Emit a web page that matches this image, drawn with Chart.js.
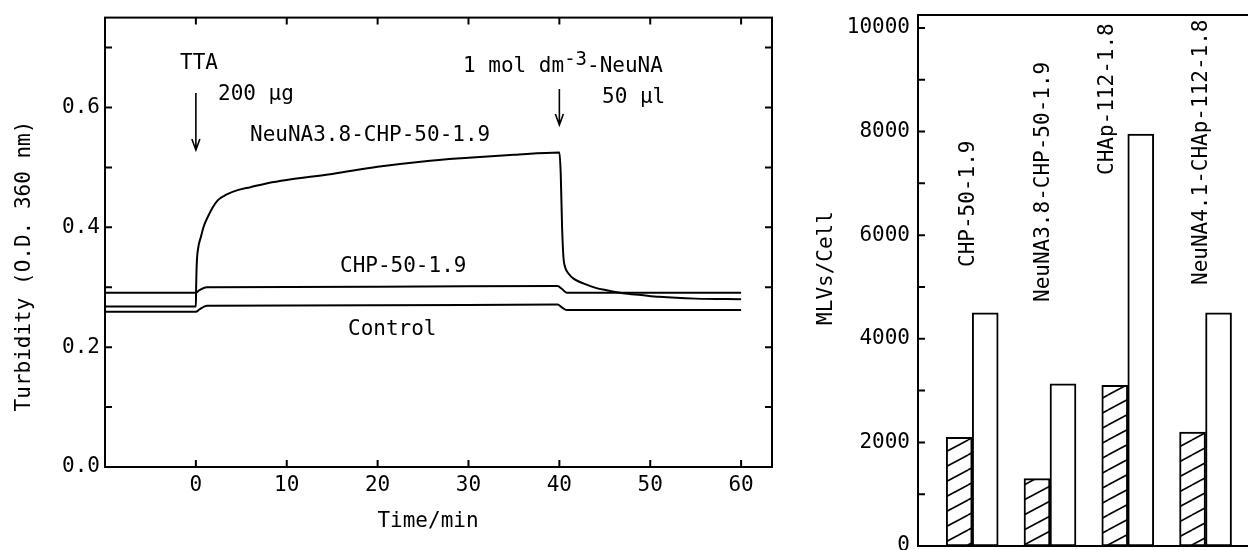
<!DOCTYPE html>
<html>
<head>
<meta charset="utf-8">
<script src="https://cdn.jsdelivr.net/npm/chart.js@4.4.1/dist/chart.umd.min.js"></script>
<style>
  html, body { margin: 0; padding: 0; background: #fff; overflow: hidden; width: 1248px; height: 550px; }
  #turbWrap { position: absolute; left: 0; top: 0; width: 800px; height: 550px; }
  #mlvWrap { position: absolute; left: 800px; top: -10px; width: 480px; height: 580px; }
</style>
</head>
<body>
<div id="turbWrap"><canvas id="turbChart"></canvas></div>
<div id="mlvWrap"><canvas id="mlvChart"></canvas></div>
<script>
// Turbidity traces (time / min, O.D. at 360 nm)
const neuTime = [-10, 0, 0.03, 0.1, 0.25, 0.55, 0.9, 1.3, 1.8, 2.4, 3.4, 4.6, 6, 8, 10, 15, 20, 25, 30, 35,
                 40, 40.15, 40.3, 40.45, 40.6, 41, 41.6, 42.7, 44, 45.2, 47, 49, 51, 55, 60];
const neuOD = [0.268, 0.268, 0.300, 0.340, 0.365, 0.384, 0.403, 0.417, 0.432, 0.445, 0.455, 0.462, 0.467, 0.474, 0.479, 0.489, 0.501, 0.510, 0.516, 0.521,
               0.525, 0.490, 0.400, 0.350, 0.335, 0.323, 0.314, 0.306, 0.299, 0.295, 0.290, 0.287, 0.284, 0.281, 0.280];
const chpTime = [-10, 0, 0.4, 1.2, 20, 39.8, 40.3, 40.8, 60];
const chpOD = [0.291, 0.291, 0.295, 0.300, 0.301, 0.302, 0.297, 0.291, 0.291];
const ctrlTime = [-10, 0, 0.4, 1.2, 20, 39.8, 40.3, 40.8, 60];
const ctrlOD = [0.259, 0.259, 0.263, 0.269, 0.270, 0.271, 0.266, 0.262, 0.262];

const timeTicks = [0, 10, 20, 30, 40, 50, 60];
const odTicks = [0, 0.1, 0.2, 0.3, 0.4, 0.5, 0.6, 0.7];
const odLabelled = [0, 0.2, 0.4, 0.6];

// MLVs bound per cell
const polymers = ['CHP-50-1.9', 'NeuNA3.8-CHP-50-1.9', 'CHAp-112-1.8', 'NeuNA4.1-CHAp-112-1.8'];
const hatchedMLV = [2100, 1300, 3100, 2200];
const openMLV = [4500, 3130, 7950, 4500];
const mlvTicks = [0, 1000, 2000, 3000, 4000, 5000, 6000, 7000, 8000, 9000, 10000];
const mlvLabelled = [0, 2000, 4000, 6000, 8000, 10000];

const FONT = '"DejaVu Sans Mono", "Liberation Mono", monospace';

function pts(xs, ys) {
    return xs.map((x, i) => ({ x: x, y: ys[i] }));
}

function isIn(list, v) {
    return list.some(a => Math.abs(a - v) < 1e-6);
}

function drawInwardTicks(ctx, a, scale, horizontal, both) {
    ctx.beginPath();
    scale.ticks.forEach(t => {
        const p = scale.getPixelForValue(t.value);
        if (horizontal) {
            ctx.moveTo(p, a.bottom); ctx.lineTo(p, a.bottom - 7);
            if (both) { ctx.moveTo(p, a.top); ctx.lineTo(p, a.top + 7); }
        } else {
            ctx.moveTo(a.left, p); ctx.lineTo(a.left + 7, p);
            if (both) { ctx.moveTo(a.right, p); ctx.lineTo(a.right - 7, p); }
        }
    });
    ctx.stroke();
}

function arrow(ctx, x, y1, y2) {
    ctx.beginPath();
    ctx.moveTo(x, y1); ctx.lineTo(x, y2);
    ctx.moveTo(x - 4, y2 - 11); ctx.lineTo(x, y2); ctx.lineTo(x + 4, y2 - 11);
    ctx.stroke();
}

// frame, inward ticks, titles and notes of the turbidity plot
const turbFrame = {
    id: 'turbFrame',
    afterDraw(chart) {
        const { ctx, chartArea: a, scales: { x, y } } = chart;
        ctx.save();
        ctx.strokeStyle = '#000';
        ctx.lineWidth = 2;
        ctx.strokeRect(a.left, a.top, a.right - a.left, a.bottom - a.top);
        drawInwardTicks(ctx, a, x, true, true);
        drawInwardTicks(ctx, a, y, false, true);

        ctx.fillStyle = '#000';
        ctx.font = '21px ' + FONT;
        ctx.textBaseline = 'middle';
        ctx.textAlign = 'center';
        ctx.fillText('Time/min', 428, 522);
        ctx.save();
        ctx.translate(25, 266);
        ctx.rotate(-Math.PI / 2);
        ctx.fillText('Turbidity (O.D. 360 nm)', 0, 0);
        ctx.restore();

        ctx.textAlign = 'left';
        ctx.fillText('TTA', 180, 64);
        ctx.fillText('200 µg', 218, 95);
        ctx.fillText('NeuNA3.8-CHP-50-1.9', 250, 136);
        ctx.fillText('CHP-50-1.9', 340, 267);
        ctx.fillText('Control', 348, 330);
        ctx.fillText('50 µl', 602, 98);

        let px = 463;
        ctx.fillText('1 mol dm', px, 67);
        px += ctx.measureText('1 mol dm').width;
        ctx.font = '19px ' + FONT;
        ctx.fillText('-3', px, 60);
        px += ctx.measureText('-3').width;
        ctx.font = '21px ' + FONT;
        ctx.fillText('-NeuNA', px, 67);

        ctx.lineWidth = 1.6;
        arrow(ctx, x.getPixelForValue(0), 93, 150);
        arrow(ctx, x.getPixelForValue(40), 89, 125);
        ctx.restore();
    }
};

const lineStyle = { borderColor: '#000', borderWidth: 2, pointRadius: 0, fill: false, cubicInterpolationMode: 'monotone' };

new Chart(document.getElementById('turbChart'), {
    type: 'line',
    data: {
        datasets: [
            Object.assign({ label: 'NeuNA3.8-CHP-50-1.9', data: pts(neuTime, neuOD) }, lineStyle),
            Object.assign({ label: 'CHP-50-1.9', data: pts(chpTime, chpOD) }, lineStyle),
            Object.assign({ label: 'Control', data: pts(ctrlTime, ctrlOD) }, lineStyle)
        ]
    },
    options: {
        responsive: true,
        maintainAspectRatio: false,
        animation: false,
        layout: { padding: { left: 0, top: 16, right: 28, bottom: 0 } },
        plugins: { colors: { enabled: false }, legend: { display: false }, tooltip: { enabled: false } },
        scales: {
            x: {
                type: 'linear', min: -10, max: 63.4,
                afterBuildTicks: s => { s.ticks = timeTicks.map(v => ({ value: v })); },
                afterFit: s => { s.height = 83; },
                grid: { display: false, drawTicks: false },
                border: { display: false },
                ticks: { color: '#000', padding: 6, font: { family: FONT, size: 21 } }
            },
            y: {
                type: 'linear', min: 0, max: 0.75,
                afterBuildTicks: s => { s.ticks = odTicks.map(v => ({ value: v })); },
                afterFit: s => { s.width = 105; },
                grid: { display: false, drawTicks: false },
                border: { display: false },
                ticks: {
                    color: '#000', padding: 5, font: { family: FONT, size: 21 },
                    callback: v => isIn(odLabelled, v) ? v.toFixed(1) : ''
                }
            }
        }
    },
    plugins: [turbFrame]
});

// diagonal hatch fill
function makeHatch() {
    const c = document.createElement('canvas');
    c.width = 28; c.height = 15;
    const g = c.getContext('2d');
    g.fillStyle = '#fff';
    g.fillRect(0, 0, 28, 15);
    g.strokeStyle = '#000';
    g.lineWidth = 1.6;
    [-15, 0, 15].forEach(dy => {
        g.beginPath(); g.moveTo(0, 15 + dy); g.lineTo(28, dy); g.stroke();
    });
    return g.createPattern(c, 'repeat');
}

// frame, ticks, title and rotated polymer names of the bar plot
// (canvas sits 10px above the page top)
const mlvFrame = {
    id: 'mlvFrame',
    afterDraw(chart) {
        const { ctx, chartArea: a, scales: { x, y } } = chart;
        ctx.save();
        ctx.strokeStyle = '#000';
        ctx.lineWidth = 2;
        ctx.strokeRect(a.left, a.top, a.right - a.left, a.bottom - a.top);
        drawInwardTicks(ctx, a, y, false, false);

        ctx.fillStyle = '#000';
        ctx.font = '21px ' + FONT;
        ctx.textBaseline = 'middle';
        ctx.save();
        ctx.translate(27, 278);
        ctx.rotate(-Math.PI / 2);
        ctx.textAlign = 'center';
        ctx.fillText('MLVs/Cell', 0, 0);
        ctx.restore();

        const nameDx = [-4, -6, -20, -4];
        const nameBottom = [277, 312, 185, 295];
        polymers.forEach((name, i) => {
            ctx.save();
            ctx.translate(x.getPixelForValue(i + 1) + nameDx[i], nameBottom[i]);
            ctx.rotate(-Math.PI / 2);
            ctx.textAlign = 'left';
            ctx.fillText(name, 0, 0);
            ctx.restore();
        });
        ctx.restore();
    }
};

const hatch = makeHatch();

new Chart(document.getElementById('mlvChart'), {
    type: 'bar',
    data: {
        datasets: [
            { label: 'hatched', data: hatchedMLV.map((v, i) => ({ x: i + 1, y: v })), backgroundColor: hatch, borderColor: '#000' },
            { label: 'open', data: openMLV.map((v, i) => ({ x: i + 1, y: v })), backgroundColor: '#fff', borderColor: '#000' }
        ]
    },
    options: {
        responsive: true,
        maintainAspectRatio: false,
        animation: false,
        layout: { padding: { left: 0, top: 25, right: 20, bottom: 24 } },
        datasets: {
            bar: { borderWidth: 2, borderSkipped: false, barThickness: 26, grouped: true }
        },
        plugins: { colors: { enabled: false }, legend: { display: false }, tooltip: { enabled: false } },
        scales: {
            x: {
                type: 'linear', min: 0.303, max: 4.7, offset: false, display: false
            },
            y: {
                type: 'linear', min: 0, max: 10250,
                afterBuildTicks: s => { s.ticks = mlvTicks.map(v => ({ value: v })); },
                afterFit: s => { s.width = 118; },
                grid: { display: false, drawTicks: false },
                border: { display: false },
                ticks: {
                    color: '#000', padding: 8, font: { family: FONT, size: 21 },
                    callback: v => isIn(mlvLabelled, v) ? String(v) : ''
                }
            }
        }
    },
    plugins: [mlvFrame]
});
</script>
</body>
</html>
